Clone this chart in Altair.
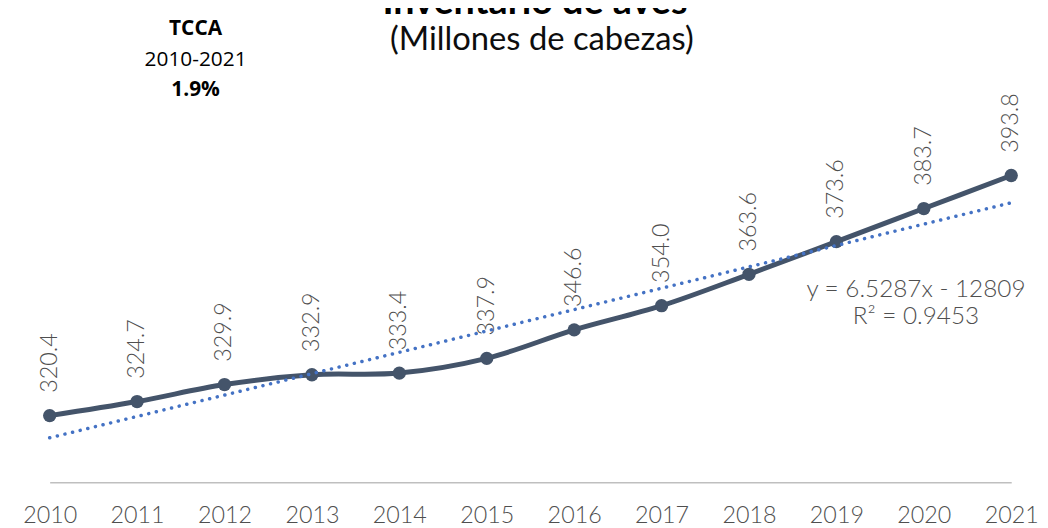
import altair as alt
import pandas as pd

years = [2010, 2011, 2012, 2013, 2014, 2015, 2016, 2017, 2018, 2019, 2020, 2021]
values = [320.4, 324.7, 329.9, 332.9, 333.4, 337.9, 346.6, 354.0, 363.6, 373.6, 383.7, 393.8]
labels = [f"{v:.1f}" for v in values]

title_text = "Inventario de aves"
subtitle_text = "(Millones de cabezas)"
tcca_lines = ["TCCA", "2010-2021", "1.9%"]
equation_lines = ["y = 6.5287x - 12809", "R² = 0.9453"]

df = pd.DataFrame({"year": years, "value": values, "label": labels})

W, H = 969, 476
LEFT = 42

x = alt.X(
    "year:Q",
    scale=alt.Scale(domain=[2010, 2021], nice=False, zero=False),
    axis=alt.Axis(
        values=years, format="d", title=None, grid=False, ticks=False, tickSize=0,
        labelFlush=False, labelOverlap=False, labelFontSize=23.5, labelFont="Lato",
        labelFontWeight=300, labelColor="#4f4f4f", labelPadding=21,
        domainColor="#BFBFBF", domainWidth=1.5,
    ),
)
y = alt.Y("value:Q", scale=alt.Scale(domain=[300, 444.4], nice=False, zero=False), axis=None)

base = alt.Chart(df)

line = base.mark_line(interpolate="cardinal", color="#44546A", strokeWidth=5).encode(x=x, y=y)
pts = base.mark_circle(size=180, color="#44546A", opacity=1).encode(x=x, y=y)
trend = (
    base.transform_regression("year", "value", extent=[2010, 2021])
    .mark_line(color="#4472C4", strokeWidth=3.5, strokeDash=[0.1, 7.8], strokeCap="round")
    .encode(x=x, y=y)
)
vlabels = base.mark_text(
    angle=270, align="left", baseline="middle", dx=23, font="Lato", fontSize=23.5,
    fontWeight=300, color="#4f4f4f"
).encode(x=x, y=y, text="label:N")

one = pd.DataFrame({"a": [0]})


def txt(s, px, py, **kw):
    return alt.Chart(one).mark_text(text=s, align="center", baseline="alphabetic", **kw).encode(
        x=alt.value(px - LEFT - 8), y=alt.value(py - 8)
    )


annos = [
    txt(title_text, 539, 12, font="Lato", fontSize=38, fontWeight="bold", color="#000000"),
    txt(subtitle_text, 546, 48, font="Lato", fontSize=33, color="#0d0d0d"),
    txt(tcca_lines[0], 197, 33, font="Open Sans", fontSize=21, fontWeight="bold", color="#000000"),
    txt(tcca_lines[1], 197, 64, font="Open Sans", fontSize=21, color="#000000"),
    txt(tcca_lines[2], 197, 95, font="Open Sans", fontSize=21, fontWeight="bold", color="#000000"),
    txt(equation_lines[0], 923, 297, font="Lato", fontSize=24.5, fontWeight=300, color="#4f4f4f"),
    txt(equation_lines[1], 923, 324, font="Lato", fontSize=24.5, fontWeight=300, color="#4f4f4f"),
]

chart = (
    alt.layer(line, pts, vlabels, trend, *annos)
    .properties(
        width=W, height=H,
        padding={"left": LEFT, "top": 0, "right": 29, "bottom": 44},
        autosize=alt.AutoSizeParams(type="none"),
        background="white",
    )
    .configure_view(stroke=None)
)

chart.save("out.html", embed_options={"renderer": "svg", "actions": False})
